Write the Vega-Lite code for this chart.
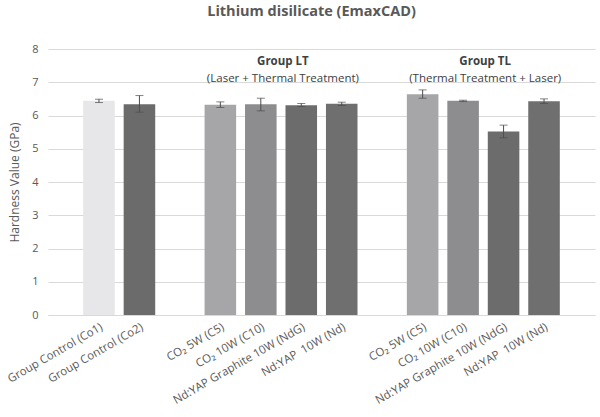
{
  "$schema": "https://vega.github.io/schema/vega-lite/v6.json",
  "width": 547,
  "height": 266,
  "autosize": {"type": "none"},
  "padding": {"left": 48, "top": 49, "right": 5, "bottom": 102},
  "background": "white",
  "config": {
    "font": "Open Sans",
    "view": {"stroke": null},
    "axis": {"labelFont": "Open Sans", "titleFont": "Open Sans"},
    "axisY": {
      "tickCount": 8,
      "domain": false,
      "ticks": false,
      "grid": true,
      "gridColor": "#d9d9d9",
      "gridWidth": 1,
      "labelColor": "#595959",
      "labelFontSize": 11,
      "labelPadding": 10,
      "labelOverlap": false,
      "titleColor": "#595959",
      "titleFontSize": 12,
      "titleFontWeight": "normal",
      "titlePadding": 10
    }
  },
  "title": {
    "text": "Lithium disilicate (EmaxCAD)",
    "fontSize": 14.5,
    "fontWeight": "bold",
    "color": "#595959",
    "offset": 24,
    "dx": -10
  },
  "datasets": {
    "bars": [
      {"cat": "Group Control (Co1)", "value": 6.44, "lo": 6.39, "hi": 6.49},
      {"cat": "Group Control (Co2)", "value": 6.34, "lo": 6.10, "hi": 6.60},
      {"cat": "CO₂ 5W (C5)", "value": 6.32, "lo": 6.24, "hi": 6.41},
      {"cat": "CO₂ 10W (C10)", "value": 6.34, "lo": 6.14, "hi": 6.52},
      {"cat": "Nd:YAP Graphite 10W (NdG)", "value": 6.31, "lo": 6.27, "hi": 6.36},
      {"cat": "Nd:YAP\u00a0 10W (Nd)", "value": 6.35, "lo": 6.30, "hi": 6.40},
      {"cat": "CO₂ 5W (C5)\u200b", "value": 6.64, "lo": 6.52, "hi": 6.77},
      {"cat": "CO₂ 10W (C10)\u200b", "value": 6.44, "lo": 6.42, "hi": 6.46},
      {"cat": "Nd:YAP Graphite 10W (NdG)\u200b", "value": 5.52, "lo": 5.33, "hi": 5.71},
      {"cat": "Nd:YAP\u00a0 10W (Nd)\u200b", "value": 6.43, "lo": 6.36, "hi": 6.50}
    ],
    "groups": [
      {"cat": "CO₂ 10W (C10)", "head": "Group LT", "sub": "(Laser + Thermal Treatment)"},
      {"cat": "CO₂ 10W (C10)\u200b", "head": "Group TL", "sub": "(Thermal Treatment + Laser)"}
    ]
  },
  "encoding": {
    "x": {
      "field": "cat",
      "type": "nominal",
      "sort": null,
      "title": null,
      "scale": {
        "domain": [
          "Group Control (Co1)", "Group Control (Co2)", " ",
          "CO₂ 5W (C5)", "CO₂ 10W (C10)", "Nd:YAP Graphite 10W (NdG)", "Nd:YAP\u00a0 10W (Nd)", "  ",
          "CO₂ 5W (C5)\u200b", "CO₂ 10W (C10)\u200b", "Nd:YAP Graphite 10W (NdG)\u200b", "Nd:YAP\u00a0 10W (Nd)\u200b"
        ],
        "paddingInner": 0.22,
        "paddingOuter": 0.87
      },
      "axis": {
        "labelAngle": -30,
        "labelFontSize": 11.5,
        "labelColor": "#595959",
        "labelPadding": 6,
        "ticks": false,
        "domain": true,
        "domainColor": "#d9d9d9",
        "domainWidth": 1,
        "grid": false,
        "labelOverlap": false
      }
    }
  },
  "layer": [
    {
      "data": {"name": "bars"},
      "mark": {"type": "bar"},
      "encoding": {
        "y": {
          "field": "value",
          "type": "quantitative",
          "title": "Hardness Value (GPa)",
          "scale": {"domain": [0, 8], "nice": false}
        },
        "color": {
          "field": "cat",
          "type": "nominal",
          "legend": null,
          "scale": {
            "domain": [
              "Group Control (Co1)", "Group Control (Co2)",
              "CO₂ 5W (C5)", "CO₂ 10W (C10)", "Nd:YAP Graphite 10W (NdG)", "Nd:YAP\u00a0 10W (Nd)",
              "CO₂ 5W (C5)\u200b", "CO₂ 10W (C10)\u200b", "Nd:YAP Graphite 10W (NdG)\u200b", "Nd:YAP\u00a0 10W (Nd)\u200b"
            ],
            "range": [
              "#e7e7e9", "#6b6b6c",
              "#a6a6a8", "#8d8d8f", "#6c6c6d", "#6f6f70",
              "#a6a6a8", "#8d8d8f", "#6c6c6d", "#6f6f70"
            ]
          }
        }
      }
    },
    {
      "data": {"name": "bars"},
      "mark": {"type": "rule", "color": "#4d4d4d", "strokeWidth": 1},
      "encoding": {
        "y": {"field": "lo", "type": "quantitative", "title": "Hardness Value (GPa)"},
        "y2": {"field": "hi"}
      }
    },
    {
      "data": {"name": "bars"},
      "mark": {"type": "tick", "color": "#4d4d4d", "size": 8, "thickness": 1},
      "encoding": {
        "y": {"field": "lo", "type": "quantitative", "title": "Hardness Value (GPa)"}
      }
    },
    {
      "data": {"name": "bars"},
      "mark": {"type": "tick", "color": "#4d4d4d", "size": 8, "thickness": 1},
      "encoding": {
        "y": {"field": "hi", "type": "quantitative", "title": "Hardness Value (GPa)"}
      }
    },
    {
      "data": {"name": "groups"},
      "mark": {"type": "text", "fontWeight": "bold", "fontSize": 11.5, "color": "#404040", "baseline": "alphabetic", "align": "center"},
      "encoding": {
        "x": {"field": "cat", "type": "nominal", "bandPosition": 1.2},
        "y": {"datum": 7.52, "type": "quantitative"},
        "text": {"field": "head"}
      }
    },
    {
      "data": {"name": "groups"},
      "mark": {"type": "text", "fontSize": 11.5, "color": "#404040", "baseline": "alphabetic", "align": "center"},
      "encoding": {
        "x": {"field": "cat", "type": "nominal", "bandPosition": 1.2},
        "y": {"datum": 7.02, "type": "quantitative"},
        "text": {"field": "sub"}
      }
    }
  ]
}
